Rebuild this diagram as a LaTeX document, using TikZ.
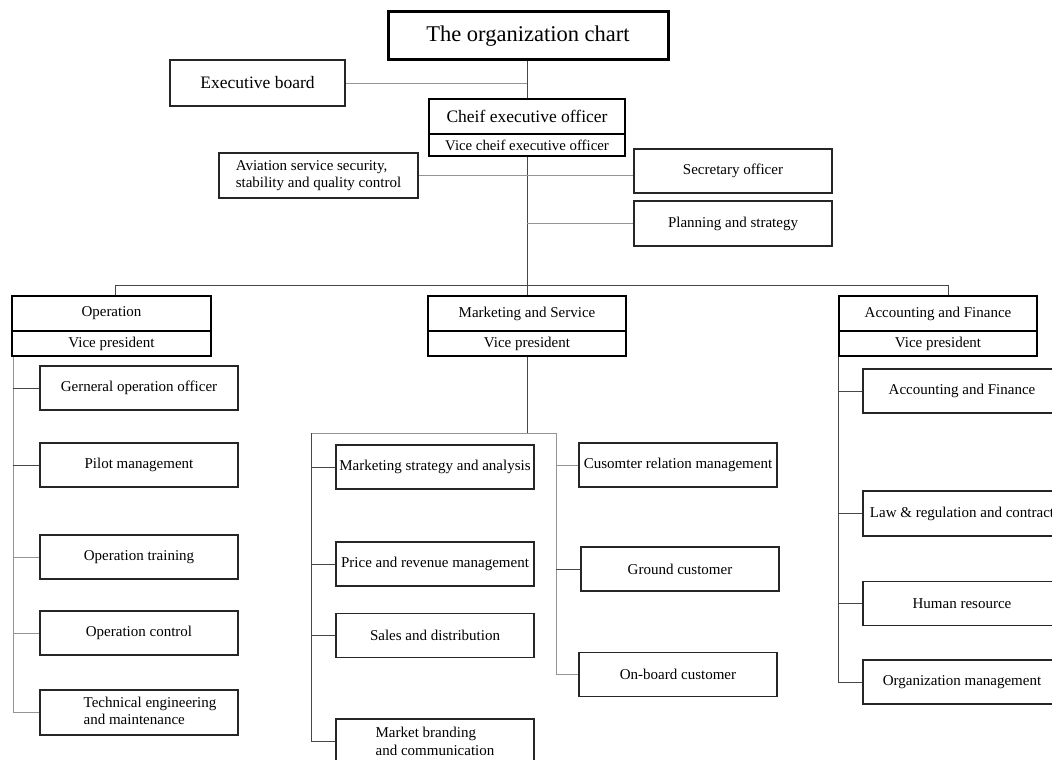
\documentclass[tikz,border=0pt]{standalone}
\usepackage{fontspec}
\setmainfont{Liberation Serif}
\pgfdeclarelayer{wires}
\pgfsetlayers{wires,main}
\begin{document}
\begin{tikzpicture}[x=1pt,y=-1pt,
  box/.style={draw=black!85, line width=1.6pt, fill=white, inner sep=0pt,
    minimum width=198pt, minimum height=44pt,
    font=\fontsize{15}{17.5}\selectfont},
  headbox/.style={box, draw=black, line width=2.2pt, minimum height=35pt},
  vpbox/.style={box, draw=black, line width=2.2pt, minimum height=25pt},
  link/.style={draw=black!72, line width=0.9pt},
  pale/.style={draw=black!42, line width=0.9pt}]

\useasboundingbox (0,0) rectangle (1052,760);
\clip (0,0) rectangle (1052,760);

% ---- top level ----
\node[box, draw=black, line width=3pt, minimum width=280pt, minimum height=48pt,
      font=\fontsize{22.5}{26}\selectfont] (title) at (528,36) {The organization chart};
\node[box, line width=1.4pt, minimum width=175pt, minimum height=46pt,
      font=\fontsize{17.5}{20}\selectfont] (exec) at (257.5,83) {Executive board};
\node[box, draw=black, line width=2pt, minimum width=196pt, minimum height=35pt,
      font=\fontsize{17.5}{20}\selectfont] (ceo) at (527,116.5) {Cheif executive officer};
\node[box, draw=black, line width=2pt, minimum width=196pt, minimum height=22pt,
      font=\fontsize{14.8}{16}\selectfont] (vceo) at (527,145) {Vice cheif executive officer};
\node[box, minimum width=199pt, minimum height=45pt, align=left,
      font=\fontsize{15}{17}\selectfont] (avi) at (318.5,175.5)
      {Aviation service security,\\stability and quality control};
\node[box, line width=1.8pt] (sec) at (733,171) {Secretary officer};
\node[box, line width=1.8pt, minimum height=45pt] (plan) at (733,223.5) {Planning and strategy};

% ---- division heads ----
\node[headbox, minimum width=199pt] (op) at (111.5,313.5) {Operation};
\node[vpbox, minimum width=199pt] (opvp) at (111.5,343.5) {Vice president};
\node[headbox] (ms) at (527,313.5) {Marketing and Service};
\node[vpbox] (msvp) at (527,343.5) {Vice president};
\node[headbox] (af) at (938,313.5) {Accounting and Finance};
\node[vpbox] (afvp) at (938,343.5) {Vice president};

% ---- operation units ----
\node[box] (gen) at (139,388) {Gerneral operation officer};
\node[box] (pilot) at (139,465) {Pilot management};
\node[box] (train) at (139,557) {Operation training};
\node[box] (ctrl) at (139,633) {Operation control};
\node[box, minimum height=45pt] (tech) at (139,712.5)
      {\hspace*{22pt}\begin{tabular}{@{}l@{}}Technical engineering\\and maintenance\end{tabular}};

% ---- marketing and service units ----
\node[box] (mstrat) at (435,467) {Marketing strategy and analysis};
\node[box] (price) at (435,564) {Price and revenue management};
\node[box] (sales) at (435,635.5) {Sales and distribution};
\node[box, minimum height=45pt, align=left] (brand) at (435,741.5)
      {Market branding\\and communication};
\node[box] (crm) at (678,465) {Cusomter relation management};
\node[box] (ground) at (680,569) {Ground customer};
\node[box] (onboard) at (678,674.5) {On-board customer};

% ---- accounting and finance units ----
\node[box] (afc) at (962,391) {Accounting and Finance};
\node[box, minimum height=45pt] (law) at (962,513.5) {Law \& regulation and contract};
\node[box] (hr) at (962,603.5) {Human resource};
\node[box] (org) at (962,682) {Organization management};

% ---- junction points ----
\coordinate (busL) at (115,285);
\coordinate (busR) at (948,285);
\coordinate (opspine) at (13,356);
\coordinate (mbusL) at (311,433);
\coordinate (mbusR) at (556,433);
\coordinate (afspine) at (838,356);

\begin{pgfonlayer}{wires}
\fill[white] (0,0) rectangle (1052,760);

% ---- upper connectors ----
\draw[link] (ceo.north |- title.south) -- (ceo.north);
\draw[pale] (exec.east) -- (exec.east -| ceo.north);
\draw[link] (vceo.south) -- (vceo.south |- busL);
\draw[pale] (avi.east) -- (avi.east -| sec.west);
\draw[pale] (plan.west) -- (plan.west -| vceo.south);

% ---- bus to divisions ----
\draw[link] (op.north -| busL) -- (busL) -- (busR) -- (af.north -| busR);
\draw[link] (ms.north) -- (ms.north |- busL);

% ---- operation tree ----
\draw[pale] (opspine) |- (tech.west);
\draw[link] (gen.west) -- (gen.west -| opspine);
\draw[link] (pilot.west) -- (pilot.west -| opspine);
\draw[pale] (train.west) -- (train.west -| opspine);
\draw[pale] (ctrl.west) -- (ctrl.west -| opspine);

% ---- marketing tree ----
\draw[link] (msvp.south) -- (msvp.south |- mbusL);
\draw[pale] (mbusL) -- (mbusR);
\draw[link] (mbusL) |- (brand.west);
\draw[link] (mstrat.west) -- (mstrat.west -| mbusL);
\draw[link] (price.west) -- (price.west -| mbusL);
\draw[link] (sales.west) -- (sales.west -| mbusL);
\draw[pale] (mbusR) |- (onboard.west);
\draw[pale] (crm.west) -- (crm.west -| mbusR);
\draw[link] (ground.west) -- (ground.west -| mbusR);

% ---- accounting tree ----
\draw[link] (afspine) |- (org.west);
\draw[link] (afc.west) -- (afc.west -| afspine);
\draw[link] (law.west) -- (law.west -| afspine);
\draw[link] (hr.west) -- (hr.west -| afspine);
\end{pgfonlayer}
\end{tikzpicture}
\end{document}
